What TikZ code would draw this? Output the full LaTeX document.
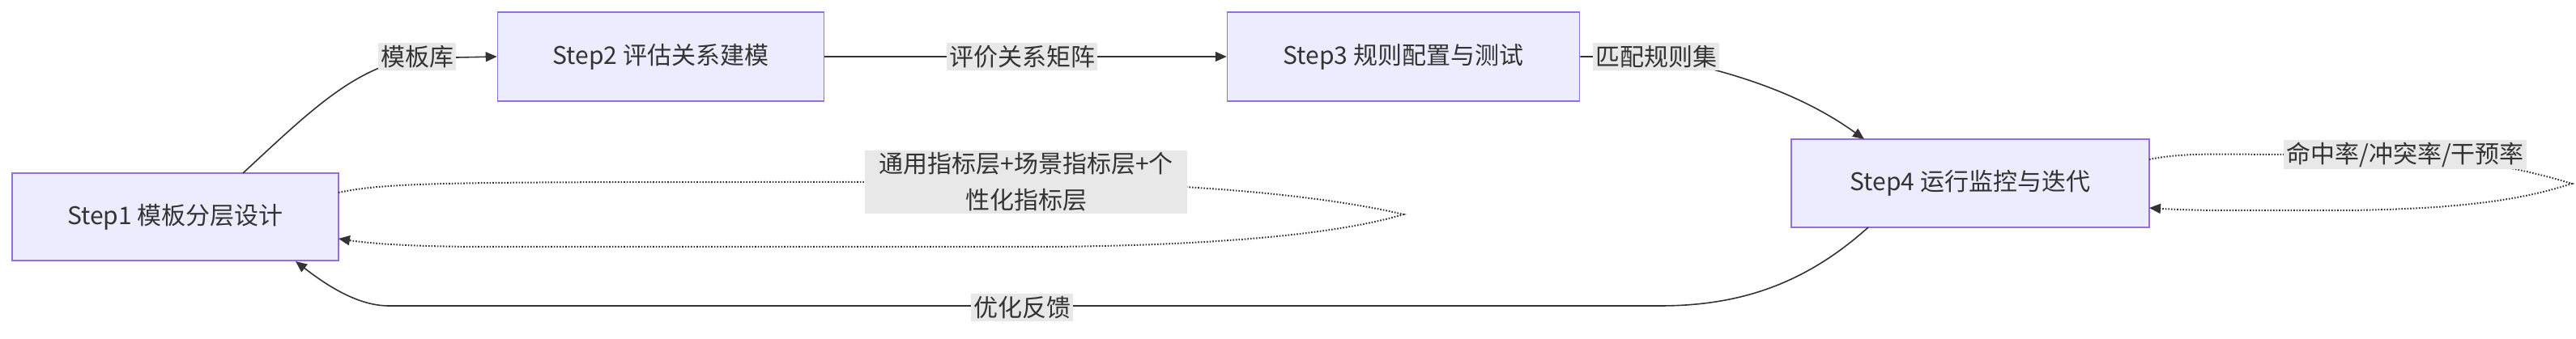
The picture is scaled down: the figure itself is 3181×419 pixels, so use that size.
\documentclass[tikz,border=0pt]{standalone}
\usepackage{fontspec}
\setmainfont{Noto Sans CJK SC}
\usetikzlibrary{arrows.meta}
\definecolor{boxfill}{HTML}{ECECFF}
\definecolor{boxline}{HTML}{9370DB}
\definecolor{lblbg}{HTML}{E8E8E8}
\definecolor{ink}{HTML}{333333}
\begin{document}
\begin{tikzpicture}[x=1pt,y=-1pt,
  stepbox/.style={draw=boxline,fill=boxfill,line width=1.5pt,inner sep=0pt,font=\fontsize{30}{36}\selectfont,text=ink},
  lbl/.style={fill=lblbg,inner sep=3pt,font=\fontsize{30}{45}\selectfont,text=ink,align=center},
  conn/.style={draw=ink,line width=1.6pt,-{Triangle[length=14pt,width=12pt]}},
  dconn/.style={conn,dotted,line width=2pt}]
\useasboundingbox (0,0) rectangle (3181,419);
\node[stepbox,minimum width=403pt,minimum height=108pt] (s1) at (216.5,268) {Step1 模板分层设计};
\node[stepbox,minimum width=403pt,minimum height=110pt] (s2) at (816,70) {Step2 评估关系建模};
\node[stepbox,minimum width=435pt,minimum height=110pt] (s3) at (1733,70) {Step3 规则配置与测试};
\node[stepbox,minimum width=442pt,minimum height=109pt] (s4) at (2433,226.5) {Step4 运行监控与迭代};
\coordinate (t1) at (1733,265);
\coordinate (t4) at (3176,227);
\coordinate (b1) at (480,378);
\coordinate (b2) at (2050,378);
% connectors
\draw[conn] (300,214) .. controls (380,140) and (440,80) .. (515,72) -- (s2.west);
\draw[conn] (s2.east) -- (s3.west);
\draw[conn] (s3.east) -- (2045,70) .. controls (2150,90) and (2230,120) .. (2302,172);
\draw[conn] (2307,281) .. controls (2230,350) and (2150,378) .. (b2) -- (b1) .. controls (440,378) and (400,350) .. (365,323);
\draw[dconn] (418,238) .. controls (480,225) and (560,225) .. (1000,225) -- (1300,225) .. controls (1500,228) and (1650,245) .. (t1) .. controls (1650,290) and (1500,303) .. (1300,305) -- (600,305) .. controls (500,305) and (450,300) .. (418,295);
\draw[dconn] (2654,197) .. controls (2690,190) and (2720,190) .. (2800,191) -- (2960,191) .. controls (3050,195) and (3120,210) .. (t4) .. controls (3120,245) and (3050,258) .. (2900,260) -- (2750,260) .. controls (2700,260) and (2670,258) .. (2654,257);
% labels
\node[lbl] (l1) at (515,70) {模板库};
\node[lbl] (l2) at (1262,70) {评价关系矩阵};
\node[lbl] (l3) at (2045,70) {匹配规则集};
\node[lbl,text width=392pt] (l4) at (1267,225) {通用指标层+场景指标层+个\\性化指标层};
\node[lbl] (l5) at (2970,191) {命中率/冲突率/干预率};
\node[lbl] (l6) at (1262,380) {优化反馈};
\end{tikzpicture}
\end{document}
